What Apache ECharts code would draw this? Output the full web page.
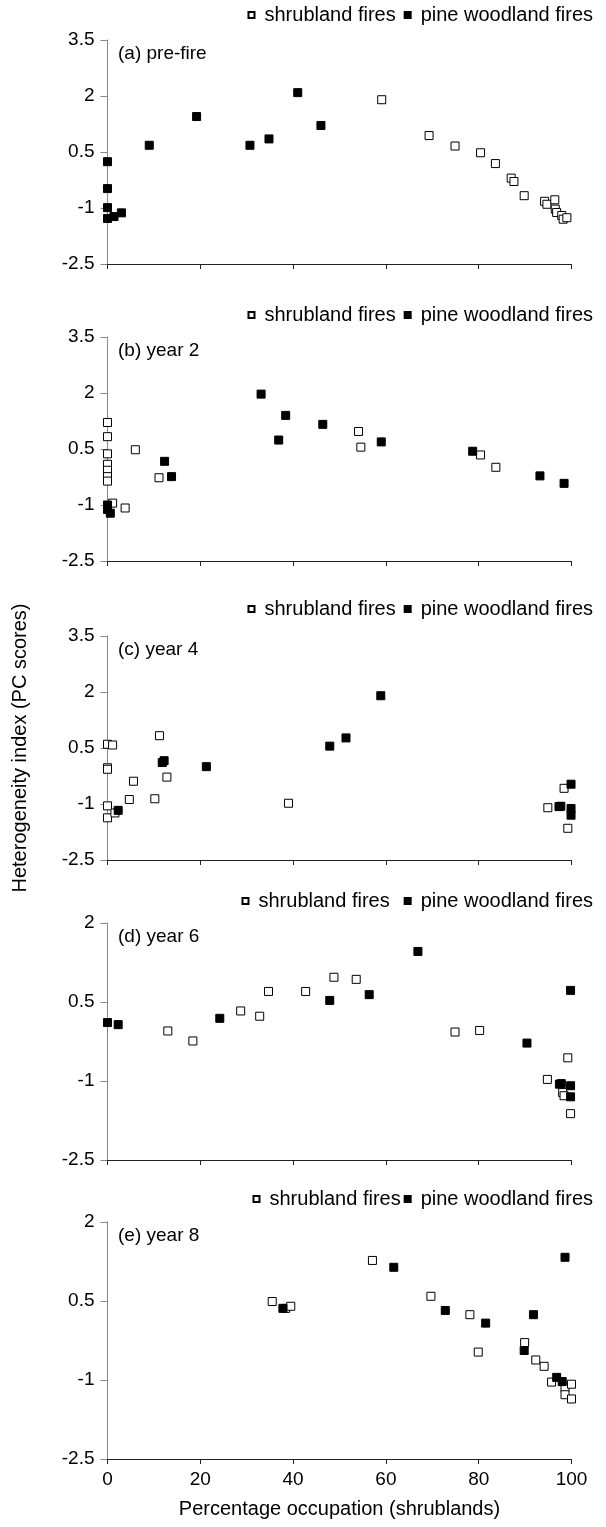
<!DOCTYPE html>
<html>
<head>
<meta charset="utf-8">
<script src="https://cdn.jsdelivr.net/npm/echarts@6/dist/echarts.min.js"></script>
<style>
  html, body { margin: 0; padding: 0; background: #fff; }
  #chart { width: 606px; height: 1527px; }
</style>
</head>
<body>
<div id="chart"></div>
<script>
// ---- data ----
const xTicks = [0, 20, 40, 60, 80, 100];
const yTicksTall = [-2.5, -1, 0.5, 2, 3.5];
const yTicksShort = [-2.5, -1, 0.5, 2];
const panelLabels = ['(a) pre-fire', '(b) year 2', '(c) year 4', '(d) year 6', '(e) year 8'];
const seriesNames = ['shrubland fires', 'pine woodland fires'];
const xTitle = 'Percentage occupation (shrublands)';
const yTitle = 'Heterogeneity index (PC scores)';

// (a) pre-fire
const shrubA = [[59.1,1.90],[69.3,0.94],[74.9,0.66],[80.4,0.48],[83.6,0.19],[87.0,-0.20],[87.6,-0.29],[89.8,-0.67],[94.2,-0.82],[94.7,-0.90],[96.4,-0.78],[96.5,-1.03],[96.8,-1.12],[97.9,-1.20],[98.2,-1.30],[99.0,-1.26]];
const pineA = [[0,0.24],[0,-0.48],[0,-0.99],[0,-1.28],[1.4,-1.23],[3.0,-1.13],[9.0,0.68],[19.2,1.45],[30.7,0.68],[34.8,0.85],[41.0,2.09],[46.0,1.21]];
// (b) year 2
const shrubB = [[0,1.21],[0,0.83],[0,0.37],[0,0.09],[0,-0.07],[0,-0.24],[0,-0.36],[1.1,-0.95],[3.8,-1.08],[6.0,0.48],[11.1,-0.27],[54.1,0.97],[54.6,0.55],[80.4,0.34],[83.7,0.01]];
const pineB = [[33.1,1.97],[38.4,1.40],[36.9,0.74],[46.4,1.16],[59.0,0.69],[12.3,0.17],[13.8,-0.24],[78.7,0.44],[93.2,-0.22],[98.4,-0.42],[0,-1.00],[0,-1.12],[0.6,-1.22]];
// (c) year 4
const shrubC = [[0,0.60],[1.1,0.58],[0,-0.03],[0,-0.07],[0,-1.05],[0,-1.37],[1.6,-1.24],[5.6,-0.39],[4.7,-0.88],[11.2,0.83],[10.2,-0.86],[12.8,-0.28],[39.0,-0.98],[94.9,-1.10],[98.4,-0.58],[99.2,-1.65]];
const pineC = [[58.9,1.90],[51.4,0.77],[47.9,0.55],[21.3,0.00],[12.2,0.16],[11.8,0.11],[2.3,-1.17],[97.7,-1.06],[97.3,-1.07],[99.9,-0.47],[99.9,-1.12],[99.9,-1.30]];
// (d) year 6
const shrubD = [[13.0,-0.05],[18.4,-0.24],[28.7,0.33],[32.8,0.23],[34.7,0.70],[42.7,0.70],[48.8,0.97],[53.6,0.93],[74.9,-0.07],[80.2,-0.04],[94.8,-0.97],[98.1,-1.22],[98.4,-1.28],[99.2,-0.56],[99.8,-1.62]];
const pineD = [[0,0.11],[2.3,0.07],[24.2,0.19],[47.9,0.53],[56.4,0.64],[66.9,1.46],[90.4,-0.28],[97.4,-1.06],[97.8,-1.05],[99.8,0.72],[99.8,-1.09],[99.8,-1.30]];
// (e) year 8
const shrubE = [[35.5,0.49],[38.4,0.36],[39.5,0.40],[57.1,1.27],[69.7,0.59],[78.1,0.24],[79.9,-0.47],[89.9,-0.29],[92.3,-0.62],[94.1,-0.74],[95.7,-1.04],[98.6,-1.15],[98.6,-1.28],[100,-1.08],[100,-1.36]];
const pineE = [[37.8,0.36],[61.7,1.14],[72.8,0.32],[81.5,0.08],[91.8,0.24],[89.8,-0.44],[98.6,1.33],[96.8,-0.95],[98.0,-1.03]];

const shrubSets = [shrubA, shrubB, shrubC, shrubD, shrubE];
const pineSets = [pineA, pineB, pineC, pineD, pineE];

// ---- layout ----
const FONT = "'Liberation Sans', Arial, sans-serif";
const gridTops = [40, 337, 636, 923, 1222];
const gridHeights = [224, 224, 224, 237, 237];
const legendTops = [5, 305, 599, 891, 1189];
const legendGaps = [8, 8, 8, 14, 3];
const yTickSets = [yTicksTall, yTicksTall, yTicksTall, yTicksShort, yTicksShort];

const grids = [], xAxes = [], yAxes = [], series = [], legends = [], graphics = [];
for (let i = 0; i < 5; i++) {
  const ticks = yTickSets[i];
  grids.push({ left: 107.5, right: 34.5, top: gridTops[i], height: gridHeights[i] });
  xAxes.push({
    type: 'value', gridIndex: i, min: xTicks[0], max: xTicks[xTicks.length - 1], interval: 20,
    axisLine: { show: true, onZero: false, lineStyle: { color: '#222', width: 1 } },
    axisTick: { show: true, inside: false, length: 5, lineStyle: { color: '#222' } },
    axisLabel: { show: i === 4, fontSize: 19, color: '#000', fontFamily: FONT, margin: 11 },
    splitLine: { show: false },
    name: i === 4 ? xTitle : '', nameLocation: 'middle', nameGap: 40,
    nameTextStyle: { fontSize: 20, color: '#000', fontFamily: FONT }
  });
  yAxes.push({
    type: 'value', gridIndex: i, min: ticks[0], max: ticks[ticks.length - 1], interval: 1.5,
    axisLine: { show: true, onZero: false, lineStyle: { color: '#888', width: 1 } },
    axisTick: { show: true, inside: false, length: 7, lineStyle: { color: '#888' } },
    axisLabel: { fontSize: 19, color: '#000', fontFamily: FONT, margin: 13 },
    splitLine: { show: false },
    name: i === 2 ? yTitle : '', nameLocation: 'middle', nameGap: 77, nameRotate: 90,
    nameTextStyle: { fontSize: 20, color: '#000', fontFamily: FONT }
  });
  series.push({
    name: seriesNames[0], type: 'scatter', xAxisIndex: i, yAxisIndex: i,
    data: shrubSets[i], symbol: 'rect', symbolSize: 8,
    itemStyle: { color: '#fff', borderColor: '#000', borderWidth: 1, opacity: 1 },
    emphasis: { disabled: true }
  });
  series.push({
    name: seriesNames[1], type: 'scatter', xAxisIndex: i, yAxisIndex: i,
    data: pineSets[i], symbol: 'rect', symbolSize: 8,
    itemStyle: { color: '#000', borderColor: '#000', borderWidth: 1, opacity: 1 },
    emphasis: { disabled: true }
  });
  legends.push({
    data: seriesNames, right: 13, top: legendTops[i], orient: 'horizontal', padding: 0,
    icon: 'rect', itemWidth: 6, itemHeight: 6, itemGap: legendGaps[i],
    textStyle: { fontSize: 20, color: '#000', fontFamily: FONT, padding: [0, 0, 0, 5] },
    selectedMode: false
  });
  graphics.push({
    type: 'text', left: 118, top: gridTops[i] + 4,
    style: { text: panelLabels[i], fill: '#000', font: '19px ' + FONT }
  });
}

const chart = echarts.init(document.getElementById('chart'), null, { renderer: 'canvas' });
chart.setOption({
  animation: false,
  backgroundColor: '#fff',
  textStyle: { fontFamily: FONT },
  grid: grids,
  xAxis: xAxes,
  yAxis: yAxes,
  legend: legends,
  series: series,
  graphic: graphics
});
</script>
</body>
</html>
